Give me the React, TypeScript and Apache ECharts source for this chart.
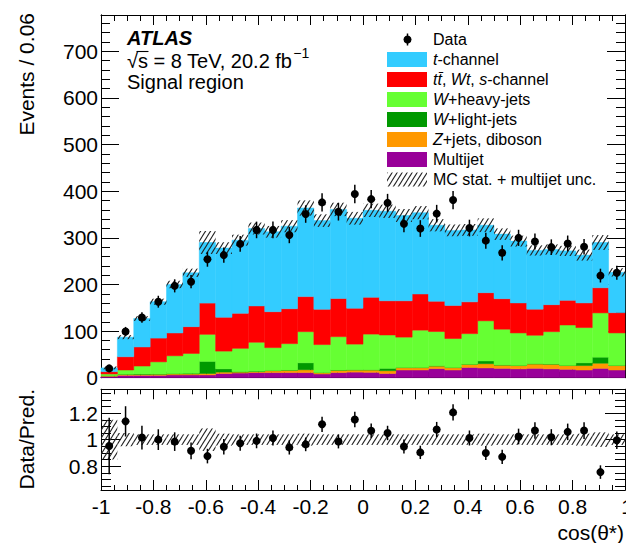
import React, { useEffect, useRef } from "react";
import * as echarts from "echarts";

// ---- data ----
const xMin = -1;
const binWidth = 0.0625;
const dataCounts = [20, 99, 129, 163, 197, 206, 254, 263, 287, 317, 317, 306, 351, 376, 356, 394, 383, 375, 330, 320, 352, 381, 321, 294, 268, 300, 292, 280, 288, 281, 219, 225];
const multijet = [3, 5, 5, 5, 6, 6, 6, 9, 10, 11, 11, 11, 11, 8, 11, 12, 11.5, 9, 16.5, 16.5, 19.5, 16.5, 22, 21, 20, 19, 20, 19, 18, 16.5, 20, 16.5];
const zjetsDiboson = [1, 2, 2, 2.5, 2, 2, 3, 3, 2, 2, 4, 5, 6, 2.7, 5, 4.5, 5, 6, 5, 5, 5.5, 5, 6.7, 9, 7, 7, 9.4, 10, 8, 9.5, 11, 9.5];
const wLight = [0.5, 0.5, 1, 0.5, 1, 1.5, 26, 7, 1, 1, 0.5, 0.5, 15, 0.3, 0.5, 0.5, 0.5, 5, 0.5, 0.5, 0.5, 0.5, 0.3, 6, 0.5, 0.5, 0.6, 0.5, 0.5, 6, 13, 0.5];
const wHeavy = [3.5, 9, 17, 26, 38, 42.5, 58, 38, 50, 62, 49, 56.5, 66.7, 60, 71.5, 55, 76.5, 71.6, 65, 80, 73.5, 62, 65.5, 86, 76.5, 69.5, 61, 69.2, 86.5, 75.5, 95, 69.5];
const ttbarWtS = [5, 28.5, 41, 51, 49, 57.5, 67, 72.6, 75, 78, 77.1, 75, 75.3, 75.7, 82, 77, 79, 73.4, 78, 77.6, 65, 71, 68.2, 60.4, 65.5, 64.5, 56, 58, 53, 53, 54, 43.5];
const tChannel = [8, 42, 61, 78, 104, 115.5, 130, 148.4, 157, 166, 171.4, 177, 190, 190.3, 191, 193, 186.5, 192, 183, 174.4, 163, 161, 154.3, 144.6, 138.5, 132.5, 126, 118.3, 106, 102.5, 97, 86.5];
const relUnc = [0.15, 0.05, 0.04, 0.04, 0.04, 0.04, 0.085, 0.045, 0.04, 0.04, 0.04, 0.04, 0.045, 0.04, 0.04, 0.04, 0.04, 0.04, 0.04, 0.04, 0.04, 0.04, 0.04, 0.045, 0.04, 0.04, 0.04, 0.04, 0.04, 0.045, 0.055, 0.04];

const mainYLabels = [0, 100, 200, 300, 400, 500, 600, 700];
const mainYMinor = [20, 40, 60, 80, 120, 140, 160, 180, 220, 240, 260, 280, 320, 340, 360, 380, 420, 440, 460, 480, 520, 540, 560, 580, 620, 640, 660, 680, 720, 740, 760];
const ratioYLabels = [0.8, 1, 1.2];
const ratioYMinor = [0.65, 0.7, 0.75, 0.85, 0.9, 0.95, 1.05, 1.1, 1.15, 1.25, 1.3, 1.35];

const components = [
  { name: "Multijet", values: multijet, color: "#990099" },
  { name: "Z+jets, diboson", values: zjetsDiboson, color: "#FF9900" },
  { name: "W+light-jets", values: wLight, color: "#009900" },
  { name: "W+heavy-jets", values: wHeavy, color: "#66FF33" },
  { name: "tt, Wt, s-channel", values: ttbarWtS, color: "#FF0000" },
  { name: "t-channel", values: tChannel, color: "#33CCFF" },
];

const legendRows = [
  { text: "{i|t}-channel", color: "#33CCFF" },
  { text: "{i|tt\u0304}, {i|Wt}, {i|s}-channel", color: "#FF0000" },
  { text: "{i|W}+heavy-jets", color: "#66FF33" },
  { text: "{i|W}+light-jets", color: "#009900" },
  { text: "{i|Z}+jets, diboson", color: "#FF9900" },
  { text: "Multijet", color: "#990099" },
];

const FONT = "'Liberation Sans', Arial, Helvetica, sans-serif";

function makeHatch() {
  const c = document.createElement("canvas");
  c.width = 5;
  c.height = 8;
  const ctx = c.getContext("2d")!;
  ctx.strokeStyle = "#222";
  ctx.lineWidth = 1.15;
  for (const off of [-5, 0, 5]) {
    ctx.beginPath();
    ctx.moveTo(off - 5, 16);
    ctx.lineTo(off + 10, -8);
    ctx.stroke();
  }
  return c;
}

function textWidth(text: string, font: string) {
  const c = document.createElement("canvas");
  const ctx = c.getContext("2d")!;
  ctx.font = font;
  return ctx.measureText(text).width;
}

export default function App() {
  const ref = useRef<HTMLDivElement>(null);
  useEffect(() => {
    if (!ref.current) return;
    const chart = echarts.init(ref.current, null, { renderer: "svg" });
    const hatch = { image: makeHatch(), repeat: "repeat" } as any;

    const nBins = dataCounts.length;
    const lo = dataCounts.map((_, i) => xMin + i * binWidth);
    const hi = lo.map((v) => v + binWidth);
    const ctr = lo.map((v) => v + binWidth / 2);

    const stackRects: number[][] = [];
    const cum = new Array(nBins).fill(0);
    components.forEach((comp, ci) => {
      for (let i = 0; i < nBins; i++) {
        const b = cum[i];
        const t = b + comp.values[i];
        stackRects.push([lo[i], hi[i], b, t, ci]);
        cum[i] = t;
      }
    });
    const totals = cum.slice();
    const bandMain = totals.map((t, i) => [lo[i], hi[i], t * (1 - relUnc[i]), t * (1 + relUnc[i])]);
    const bandRatio = totals.map((t, i) => [lo[i], hi[i], 1 - relUnc[i], 1 + relUnc[i]]);
    const ptsMain = dataCounts.map((d, i) => [ctr[i], d, Math.sqrt(d)]);
    const ptsRatio = dataCounts.map((d, i) => [ctr[i], d / totals[i], Math.sqrt(d) / totals[i]]);

    const rectRender = (fillFn: (api: any) => any, stroke: boolean) => (params: any, api: any) => {
      const p0 = api.coord([api.value(0), api.value(3)]);
      const p1 = api.coord([api.value(1), api.value(2)]);
      const fill = fillFn(api);
      return {
        type: "rect",
        shape: { x: p0[0], y: p0[1], width: p1[0] - p0[0], height: p1[1] - p0[1] },
        style: stroke ? { fill, stroke: fill, lineWidth: 0.5 } : { fill },
      };
    };
    const pointRender = (params: any, api: any) => {
      const x = api.value(0), y = api.value(1), e = api.value(2);
      const c = api.coord([x, y]);
      const t = api.coord([x, y + e]);
      const b = api.coord([x, y - e]);
      return {
        type: "group",
        children: [
          { type: "line", shape: { x1: c[0], y1: t[1], x2: c[0], y2: b[1] }, style: { stroke: "#000", lineWidth: 1.5 } },
          { type: "circle", shape: { cx: c[0], cy: c[1], r: 4 }, style: { fill: "#000" } },
        ],
      };
    };

    const xAxisDef = (gridIndex: number, position: string, showLabel: boolean) => ({
      type: "value",
      gridIndex,
      position,
      min: -1,
      max: 1,
      interval: 0.2,
      axisLine: { show: true, onZero: false, lineStyle: { color: "#000", width: 1 } },
      axisTick: { show: true, inside: true, length: 10, lineStyle: { color: "#000" } },
      minorTick: { show: true, splitNumber: 4, length: gridIndex === 0 ? 6 : 5, lineStyle: { color: "#000" } },
      splitLine: { show: false },
      minorSplitLine: { show: false },
      axisLabel: {
        show: showLabel,
        showMaxLabel: false,
        color: "#000",
        fontFamily: FONT,
        fontSize: 21,
        margin: 6,
        formatter: (v: number) => String(Number(v.toFixed(2))),
      },
    });
    const yAxisDef = (gridIndex: number, position: string, min: number, max: number, values: number[], len: number, showLabel: boolean) => ({
      type: "value",
      gridIndex,
      position,
      min,
      max,
      axisLine: { show: true, onZero: false, lineStyle: { color: "#000", width: 1 } },
      axisTick: { show: true, inside: true, length: len, customValues: values, lineStyle: { color: "#000" } },
      splitLine: { show: false },
      axisLabel: {
        show: showLabel,
        customValues: values,
        color: "#000",
        fontFamily: FONT,
        fontSize: 21,
        margin: 3,
        formatter: (v: number) => String(Number(v.toFixed(2))),
      },
    });

    const energyText = "\u221As = 8 TeV, 20.2 fb";
    const energyW = textWidth(energyText, `20px ${FONT}`);
    const sqrtW = textWidth("\u221A", `20px ${FONT}`);
    const sqrtSW = textWidth("\u221As", `20px ${FONT}`);

    const legendX = 387;
    const legendTextX = 433;
    const rowY = (k: number) => 39.5 + k * 20;
    const graphics: any[] = [
      { type: "text", x: 127, y: 38, style: { text: "ATLAS", fontFamily: FONT, fontSize: 20, fontWeight: "bold", fontStyle: "italic", fill: "#000", verticalAlign: "middle" } },
      { type: "text", x: 127, y: 61, style: { text: energyText, fontFamily: FONT, fontSize: 20, fill: "#000", verticalAlign: "middle" } },
      { type: "line", shape: { x1: 127 + sqrtW - 1.5, y1: 51.5, x2: 127 + sqrtSW + 0.5, y2: 51.5 }, style: { stroke: "#000", lineWidth: 1.1 } },
      { type: "text", x: 127 + energyW + 1, y: 53, style: { text: "\u22121", fontFamily: FONT, fontSize: 14, fill: "#000", verticalAlign: "middle" } },
      { type: "text", x: 127, y: 82, style: { text: "Signal region", fontFamily: FONT, fontSize: 20, fill: "#000", verticalAlign: "middle" } },
      { type: "line", shape: { x1: 407.5, y1: rowY(0) - 6, x2: 407.5, y2: rowY(0) + 6 }, style: { stroke: "#000", lineWidth: 1.5 } },
      { type: "circle", shape: { cx: 407.5, cy: rowY(0), r: 4 }, style: { fill: "#000" } },
      { type: "text", x: legendTextX, y: rowY(0), style: { text: "Data", fontFamily: FONT, fontSize: 16, fill: "#000", verticalAlign: "middle" } },
    ];
    legendRows.forEach((r, k) => {
      graphics.push({ type: "rect", shape: { x: legendX, y: rowY(k + 1) - 7.5, width: 40, height: 15 }, style: { fill: r.color } });
      graphics.push({
        type: "text",
        x: legendTextX,
        y: rowY(k + 1),
        style: {
          text: r.text,
          fontFamily: FONT,
          fontSize: 16,
          fill: "#000",
          verticalAlign: "middle",
          rich: { i: { fontStyle: "italic", fontFamily: FONT, fontSize: 16, fill: "#000" } },
        },
      });
    });
    graphics.push({ type: "rect", shape: { x: legendX, y: rowY(7) - 7, width: 40, height: 14 }, style: { fill: hatch } });
    graphics.push({ type: "text", x: legendTextX, y: rowY(7), style: { text: "MC stat. + multijet unc.", fontFamily: FONT, fontSize: 16, fill: "#000", verticalAlign: "middle" } });
    graphics.push({ type: "text", x: 26, y: 13, rotation: Math.PI / 2, style: { text: "Events / 0.06", fontFamily: FONT, fontSize: 21, fill: "#000", align: "right", verticalAlign: "middle" } });
    graphics.push({ type: "text", x: 26, y: 389, rotation: Math.PI / 2, style: { text: "Data/Pred.", fontFamily: FONT, fontSize: 21, fill: "#000", align: "right", verticalAlign: "middle" } });
    graphics.push({ type: "text", x: 624, y: 532, style: { text: "cos(\u03B8*)", fontFamily: FONT, fontSize: 21, fill: "#000", align: "right", verticalAlign: "middle" } });
    // last x tick label, centred on the frame edge and cut by the page edge as in the reference
    graphics.push({ type: "text", x: 627, y: 496, style: { text: "1", fontFamily: FONT, fontSize: 21, fill: "#000", align: "center", verticalAlign: "top" } });

    const option: any = {
      animation: false,
      backgroundColor: "#fff",
      grid: [
        { left: 101, top: 15, width: 524, height: 362.7 },
        { left: 101, top: 389.3, width: 524, height: 100.7 },
      ],
      xAxis: [
        xAxisDef(0, "bottom", false),
        xAxisDef(0, "top", false),
        xAxisDef(1, "bottom", true),
        xAxisDef(1, "top", false),
      ],
      yAxis: [
        yAxisDef(0, "left", 0, 778, mainYLabels, 18, true),
        yAxisDef(0, "left", 0, 778, mainYMinor, 9, false),
        yAxisDef(0, "right", 0, 778, mainYLabels, 18, false),
        yAxisDef(0, "right", 0, 778, mainYMinor, 9, false),
        yAxisDef(1, "left", 0.62, 1.38, ratioYLabels, 20, true),
        yAxisDef(1, "left", 0.62, 1.38, ratioYMinor, 10, false),
        yAxisDef(1, "right", 0.62, 1.38, ratioYLabels, 20, false),
        yAxisDef(1, "right", 0.62, 1.38, ratioYMinor, 10, false),
      ],
      series: [
        {
          type: "custom",
          xAxisIndex: 0,
          yAxisIndex: 0,
          renderItem: rectRender((api) => components[api.value(4)].color, true),
          data: stackRects,
          z: 1,
        },
        {
          type: "custom",
          xAxisIndex: 0,
          yAxisIndex: 0,
          renderItem: rectRender(() => hatch, false),
          data: bandMain,
          z: 2,
        },
        { type: "custom", xAxisIndex: 0, yAxisIndex: 0, renderItem: pointRender, data: ptsMain, z: 3 },
        {
          type: "custom",
          xAxisIndex: 2,
          yAxisIndex: 4,
          renderItem: rectRender(() => hatch, false),
          data: bandRatio,
          z: 2,
        },
        { type: "custom", xAxisIndex: 2, yAxisIndex: 4, renderItem: pointRender, data: ptsRatio, z: 3 },
      ],
      graphic: graphics,
    };
    chart.setOption(option);
    return () => chart.dispose();
  }, []);
  return <div ref={ref} style={{ position: "fixed", left: 0, top: 0, width: 626, height: 543 }} />;
}
